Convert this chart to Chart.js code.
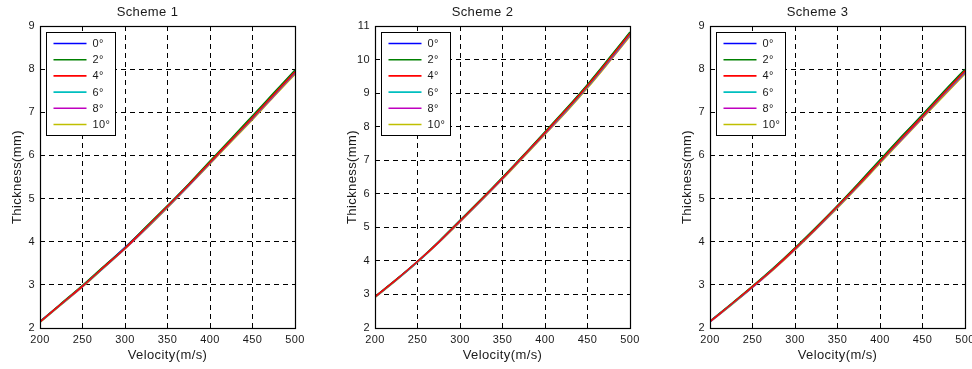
<!DOCTYPE html>
<html><head><meta charset="utf-8">
<script src="https://cdn.jsdelivr.net/npm/chart.js@4"></script>
<style>
html,body{margin:0;padding:0;background:#fff;overflow:hidden;width:972px;height:369px;position:relative}
canvas{position:absolute;top:0}
</style></head><body>
<canvas id="c1" width="320" height="369" style="left:0px"></canvas>
<canvas id="c2" width="320" height="369" style="left:335px"></canvas>
<canvas id="c3" width="320" height="369" style="left:670px"></canvas>
<script>
const velocity = [200,225,250,275,300,325,350,375,400,425,450,475,500];
const angleLabels = ['0°','2°','4°','6°','8°','10°'];
const colors = ['#0000FF','#008000','#FF0000','#00BFBF','#BF00BF','#BFBF00'];
const drawOrder = [4, 3, 0, 1, 2, 5];
const titles = ['Scheme 1','Scheme 2','Scheme 3'];
const yMaxes = [9, 11, 9];
const yMin = 2;

const s1_0  = [2.15,2.56,2.98,3.42,3.87,4.34,4.83,5.33,5.85,6.37,6.90,7.43,7.97];
const s1_2  = [2.15,2.57,2.99,3.43,3.86,4.35,4.84,5.34,5.87,6.39,6.92,7.45,7.98];
const s1_4  = [2.14,2.56,2.97,3.41,3.85,4.33,4.82,5.32,5.84,6.36,6.88,7.41,7.94];
const s1_6  = [2.14,2.55,2.97,3.40,3.85,4.32,4.81,5.31,5.83,6.35,6.87,7.40,7.93];
const s1_8  = [2.14,2.55,2.96,3.40,3.84,4.31,4.80,5.30,5.82,6.34,6.85,7.38,7.91];
const s1_10 = [2.13,2.54,2.95,3.39,3.83,4.30,4.79,5.29,5.80,6.32,6.83,7.36,7.88];

const s2_0  = [2.93,3.44,3.98,4.57,5.20,5.83,6.48,7.15,7.83,8.52,9.24,10.01,10.81];
const s2_2  = [2.94,3.45,3.99,4.58,5.21,5.84,6.49,7.16,7.85,8.54,9.26,10.03,10.82];
const s2_4  = [2.93,3.44,3.98,4.56,5.19,5.82,6.47,7.14,7.82,8.51,9.22,9.99,10.78];
const s2_6  = [2.92,3.43,3.97,4.56,5.18,5.81,6.46,7.13,7.81,8.49,9.20,9.97,10.76];
const s2_8  = [2.92,3.43,3.97,4.55,5.17,5.80,6.45,7.12,7.79,8.47,9.18,9.94,10.73];
const s2_10 = [2.91,3.42,3.96,4.54,5.16,5.79,6.43,7.10,7.77,8.44,9.15,9.91,10.69];

const s3_0  = [2.16,2.55,2.96,3.39,3.85,4.33,4.83,5.35,5.89,6.42,6.94,7.47,7.99];
const s3_2  = [2.16,2.56,2.97,3.40,3.86,4.34,4.84,5.36,5.90,6.43,6.95,7.48,8.00];
const s3_4  = [2.15,2.55,2.96,3.38,3.84,4.32,4.82,5.33,5.86,6.39,6.91,7.44,7.96];
const s3_6  = [2.15,2.54,2.95,3.38,3.83,4.31,4.81,5.32,5.85,6.38,6.90,7.43,7.94];
const s3_8  = [2.14,2.54,2.94,3.37,3.82,4.30,4.80,5.31,5.84,6.36,6.88,7.41,7.92];
const s3_10 = [2.14,2.53,2.94,3.36,3.81,4.29,4.78,5.29,5.82,6.34,6.86,7.38,7.89];

const schemes = [
  [s1_0,s1_2,s1_4,s1_6,s1_8,s1_10],
  [s2_0,s2_2,s2_4,s2_6,s2_8,s2_10],
  [s3_0,s3_2,s3_4,s3_6,s3_8,s3_10]
];

const FONT = '"Liberation Sans", Arial, Helvetica, sans-serif';
const TXT = '#1a1a1a';

const spacingPlugin = {
  id: 'spacing',
  beforeDraw(chart){ chart.ctx.letterSpacing = '0.4px'; }
};

const framePlugin = {
  id: 'frame',
  afterDraw(chart){
    const {ctx, chartArea:a} = chart;
    ctx.save();
    ctx.strokeStyle = '#000';
    ctx.lineWidth = 1.2;
    ctx.setLineDash([]);
    ctx.strokeRect(Math.round(a.left)+0.5, Math.round(a.top)+0.5, Math.round(a.right-a.left), Math.round(a.bottom-a.top));
    const bx = Math.round(a.left)+6.5, by = Math.round(a.top)+6.5, bw = 69, bh = 103;
    ctx.fillStyle = '#fff';
    ctx.fillRect(bx, by, bw, bh);
    ctx.lineWidth = 1;
    ctx.strokeRect(bx, by, bw, bh);
    ctx.font = '11px ' + FONT;
    ctx.textBaseline = 'middle';
    ctx.textAlign = 'left';
    chart.data.datasets.forEach((ds, i) => {
      const y = by + 11 + i * 16.2;
      ctx.strokeStyle = ds.borderColor;
      ctx.lineWidth = 1.6;
      ctx.beginPath();
      ctx.moveTo(bx + 7, y);
      ctx.lineTo(bx + 40, y);
      ctx.stroke();
      ctx.fillStyle = TXT;
      ctx.fillText(ds.label, bx + 46, y + 0.5);
    });
    ctx.restore();
  }
};

function makeChart(id, idx){
  const series = schemes[idx];
  const datasets = series.map((vals, i) => ({
    label: angleLabels[i],
    data: velocity.map((v, k) => ({x: v, y: vals[k]})),
    borderColor: colors[i],
    backgroundColor: colors[i],
    borderWidth: 1.5,
    pointRadius: 0,
    fill: false,
    order: drawOrder[i],
    cubicInterpolationMode: 'monotone'
  }));
  const gridCommon = { color: '#000', lineWidth: 1, drawTicks: false };
  new Chart(document.getElementById(id), {
    type: 'line',
    data: { datasets },
    options: {
      responsive: false,
      animation: false,
      layout: { padding: { left: 0, right: 25, top: 0, bottom: 0 } },
      plugins: {
        legend: { display: false },
        tooltip: { enabled: false },
        title: {
          display: true, text: titles[idx], color: TXT,
          font: { family: FONT, size: 13, weight: 'normal' },
          padding: { top: 5, bottom: 5.4 }
        }
      },
      scales: {
        x: {
          type: 'linear', min: 200, max: 500,
          ticks: { stepSize: 50, color: TXT, font: { family: FONT, size: 11 }, padding: 5, maxRotation: 0 },
          grid: gridCommon,
          border: { display: false, dash: [5, 4] },
          title: { display: true, text: 'Velocity(m/s)', color: TXT, font: { family: FONT, size: 13 }, padding: { top: 0, bottom: 6 } },
          afterFit(s){ s.height = 41; }
        },
        y: {
          type: 'linear', min: yMin, max: yMaxes[idx],
          ticks: { stepSize: 1, color: TXT, font: { family: FONT, size: 11 }, padding: 5 },
          grid: gridCommon,
          border: { display: false, dash: [5, 4] },
          title: { display: true, text: 'Thickness(mm)', color: TXT, font: { family: FONT, size: 13 }, padding: { top: 10, bottom: 0 } },
          afterFit(s){ s.width = 40; }
        }
      }
    },
    plugins: [spacingPlugin, framePlugin]
  });
}
makeChart('c1', 0);
makeChart('c2', 1);
makeChart('c3', 2);
</script>
</body></html>
